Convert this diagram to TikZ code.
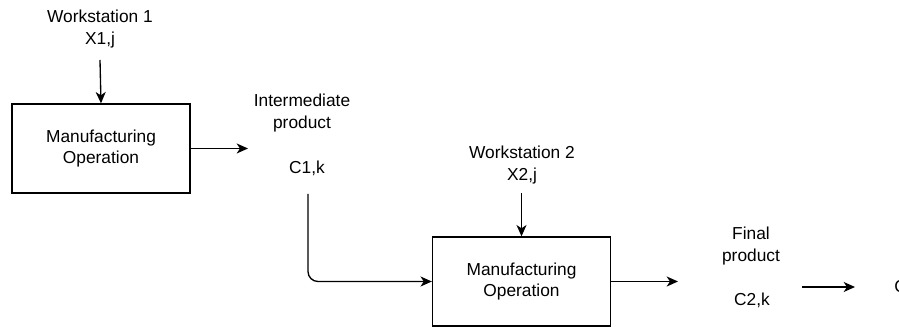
\documentclass[tikz,border=0pt]{standalone}
\usepackage{fontspec}
\setmainfont{Liberation Sans}
\usetikzlibrary{arrows.meta}
\begin{document}
\begin{tikzpicture}[x=0.75pt,y=-0.75pt,
  txt/.style={align=center, inner sep=0pt, font=\fontsize{13}{16.5}\selectfont},
  opbox/.style={draw, line width=1pt, minimum width=133.5pt, minimum height=66.75pt,
    inner sep=0pt, align=center, font=\fontsize{13}{15.75}\selectfont},
  arr/.style={line width=1pt, -{Stealth[length=8.5pt,width=7.5pt,inset=2.5pt]}}]
\useasboundingbox (0,0) rectangle (899,327);
\clip (0,0) rectangle (899,327);

% first operation
\node[opbox] (box1) at (101,148.5) {Manufacturing\\Operation};
\node[txt] (ws1) at (100,29.5) {Workstation 1\\X1,j};
\coordinate (ws1s) at (100,60);
\draw[arr] (ws1s) -- (box1.north);

% intermediate product
\node[txt] (inter) at (302,113) {Intermediate\\product};
\node[txt] (c1) at (307,168) {C1,k};
\coordinate (e1) at (248,148.5);
\draw[arr] (box1.east) -- (e1);

% second operation
\node[opbox] (box2) at (521.5,281.5) {Manufacturing\\Operation};
\node[txt] (ws2) at (522,165) {Workstation 2\\X2,j};
\coordinate (ws2s) at (521.5,193);
\draw[arr] (ws2s) -- (box2.north);
\coordinate (c1s) at (308,194);
\draw[arr, rounded corners=7.5pt] (c1s) |- (box2.west);

% final product
\coordinate (e2) at (678,281.5);
\draw[arr] (box2.east) -- (e2);
\node[txt] (fin) at (751,246.5) {Final\\product};
\node[txt] (c2) at (752,300) {C2,k};
\coordinate (f1) at (802,287);
\coordinate (f2) at (855,287);
\draw[arr] (f1) -- (f2);
\node[txt, anchor=west] (c3) at (894,287) {C};
\end{tikzpicture}
\end{document}
